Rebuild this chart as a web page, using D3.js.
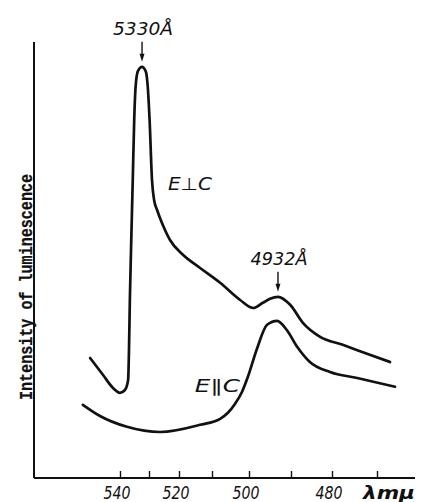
<!DOCTYPE html>
<html>
<head>
<meta charset="utf-8">
<script src="https://cdn.jsdelivr.net/npm/d3@7"></script>
<style>
  body { margin: 0; background: #fff; }
  svg { display: block; }
  .lbl { font-family: "Liberation Sans Narrow", "DejaVu Sans Condensed", sans-serif; font-style: italic; fill: #111; }
</style>
</head>
<body>
<div id="chart"></div>
<script>
// wavelength ticks (nm) along the bottom axis
var lambdaTicks = [540, 530, 520, 510, 500, 490, 480, 470];
var labeledTicks = [540, 520, 500, 480];

// E perpendicular to C : [wavelength nm, intensity arb. units]
var perpData = [
    [550.3, 30.0], [545.9, 25.8], [542.4, 22.5], [540.0, 21.3], [538.3, 22.0],
    [537.2, 24.5], [536.9, 32.0], [536.6, 44.5], [536.2, 57.0], [535.6, 74.5],
    [535.1, 89.5], [534.6, 98.0], [533.8, 101.8], [532.4, 102.8], [531.1, 101.6],
    [530.4, 97.5], [529.8, 89.5], [529.0, 74.5], [528.3, 69.5], [527.3, 67.0],
    [525.7, 63.8], [523.0, 59.5], [518.8, 55.8], [513.6, 52.5], [507.8, 48.8],
    [502.4, 44.5], [499.0, 42.5], [496.7, 43.8], [495.0, 44.8], [493.1, 45.3],
    [490.2, 43.3], [487.1, 38.8], [482.9, 35.3], [477.6, 33.3], [471.6, 30.8],
    [467.1, 29.0]
];

// E parallel to C
var paraData = [
    [552.8, 18.3], [546.9, 15.5], [537.6, 12.8], [526.3, 11.5], [513.6, 13.3],
    [507.8, 14.8], [505.7, 16.3], [503.8, 18.5], [501.9, 21.5], [500.3, 25.3],
    [498.1, 32.3], [495.7, 38.3], [493.3, 39.3], [491.0, 37.0], [488.5, 32.8],
    [485.4, 29.0], [480.5, 26.5], [474.4, 25.0], [466.0, 22.8]
];

var width = 424, height = 502;
var margin = {top: 42, left: 34};
var plotW = 381, plotH = 436;

var svg = d3.select("#chart").append("svg")
    .attr("width", width)
    .attr("height", height);

var g = svg.append("g")
    .attr("transform", "translate(" + margin.left + "," + margin.top + ")");

// the wavelength axis of the original is not uniform, so calibrate it piecewise
var x = d3.scaleLinear()
    .domain(lambdaTicks)
    .range([86, 115, 145, 178, 215, 257, 298, 343]);

var y = d3.scaleLinear()
    .domain([0, 109])
    .range([plotH, 0]);

// frame: left and bottom lines
g.append("line")
    .attr("x1", 0).attr("y1", 0)
    .attr("x2", 0).attr("y2", plotH)
    .attr("stroke", "#111").attr("stroke-width", 2);

g.append("line")
    .attr("x1", 0).attr("y1", plotH)
    .attr("x2", plotW).attr("y2", plotH)
    .attr("stroke", "#111").attr("stroke-width", 2.2);

// ticks point up into the plot
var xAxis = d3.axisBottom(x)
    .tickValues(lambdaTicks)
    .tickSize(-7)
    .tickFormat("");

var axisG = g.append("g")
    .attr("transform", "translate(0," + plotH + ")")
    .call(xAxis);
axisG.select(".domain").remove();
axisG.selectAll(".tick line").attr("stroke", "#111").attr("stroke-width", 1.4);

g.selectAll(".ticklabel")
    .data(labeledTicks)
    .enter()
    .append("text")
    .attr("class", "lbl ticklabel")
    .attr("x", function (d) { return x(d) - 3; })
    .attr("y", plotH + 21)
    .attr("text-anchor", "middle")
    .attr("font-size", "18px")
    .attr("textLength", 27)
    .attr("lengthAdjust", "spacingAndGlyphs")
    .text(function (d) { return d; });

g.append("text")
    .attr("class", "lbl")
    .attr("x", 329)
    .attr("y", plotH + 21)
    .attr("font-size", "18px")
    .attr("font-weight", "bold")
    .attr("textLength", 52)
    .attr("lengthAdjust", "spacingAndGlyphs")
    .text("λmμ");

// y label
svg.append("text")
    .attr("transform", "translate(32,287) rotate(-90)")
    .attr("text-anchor", "middle")
    .attr("font-family", "'Liberation Mono', 'Courier New', monospace")
    .attr("font-weight", "bold")
    .attr("font-size", "19px")
    .attr("textLength", 226)
    .attr("lengthAdjust", "spacingAndGlyphs")
    .attr("fill", "#111")
    .attr("stroke", "#111")
    .attr("stroke-width", 0.3)
    .text("Intensity of luminescence");

var line = d3.line()
    .x(function (d) { return x(d[0]); })
    .y(function (d) { return y(d[1]); })
    .curve(d3.curveMonotoneX);

[perpData, paraData].forEach(function (series) {
    g.append("path")
        .datum(series)
        .attr("d", line)
        .attr("fill", "none")
        .attr("stroke", "#111")
        .attr("stroke-width", 2.7)
        .attr("stroke-linecap", "round")
        .attr("stroke-linejoin", "round");
});

// peak annotations with arrows
var mainPeak = perpData.reduce(function (a, b) { return b[1] > a[1] ? b : a; });
var sidePeak = perpData.filter(function (d) { return d[0] < 498; })
    .reduce(function (a, b) { return b[1] > a[1] ? b : a; });

var peaks = [
    {label: "5330Å", p: mainPeak, w: 60},
    {label: "4932Å", p: sidePeak, w: 57}
];

peaks.forEach(function (pk) {
    var px = x(pk.p[0]), py = y(pk.p[1]);
    var tipY = py - 5, topY = py - 25;
    g.append("line")
        .attr("x1", px).attr("y1", topY)
        .attr("x2", px).attr("y2", tipY - 4)
        .attr("stroke", "#111").attr("stroke-width", 1.4);
    g.append("path")
        .attr("d", "M" + (px - 2.5) + "," + (tipY - 8) + "L" + (px + 2.5) + "," + (tipY - 8) + "L" + px + "," + tipY + "Z")
        .attr("fill", "#111");
    g.append("text")
        .attr("class", "lbl")
        .attr("x", px + 1)
        .attr("y", topY - 7)
        .attr("text-anchor", "middle")
        .attr("font-size", "18px")
        .attr("textLength", pk.w)
        .attr("lengthAdjust", "spacingAndGlyphs")
        .text(pk.label);
});

// curve labels
g.append("text")
    .attr("class", "lbl")
    .attr("x", x(523.7))
    .attr("y", y(72))
    .attr("font-size", "17px")
    .attr("textLength", 44)
    .attr("lengthAdjust", "spacingAndGlyphs")
    .text("E⊥C");

g.append("text")
    .attr("class", "lbl")
    .attr("x", x(515.2))
    .attr("y", y(21.5))
    .attr("font-size", "17px")
    .attr("textLength", 45)
    .attr("lengthAdjust", "spacingAndGlyphs")
    .text("E∥C");
</script>
</body>
</html>
